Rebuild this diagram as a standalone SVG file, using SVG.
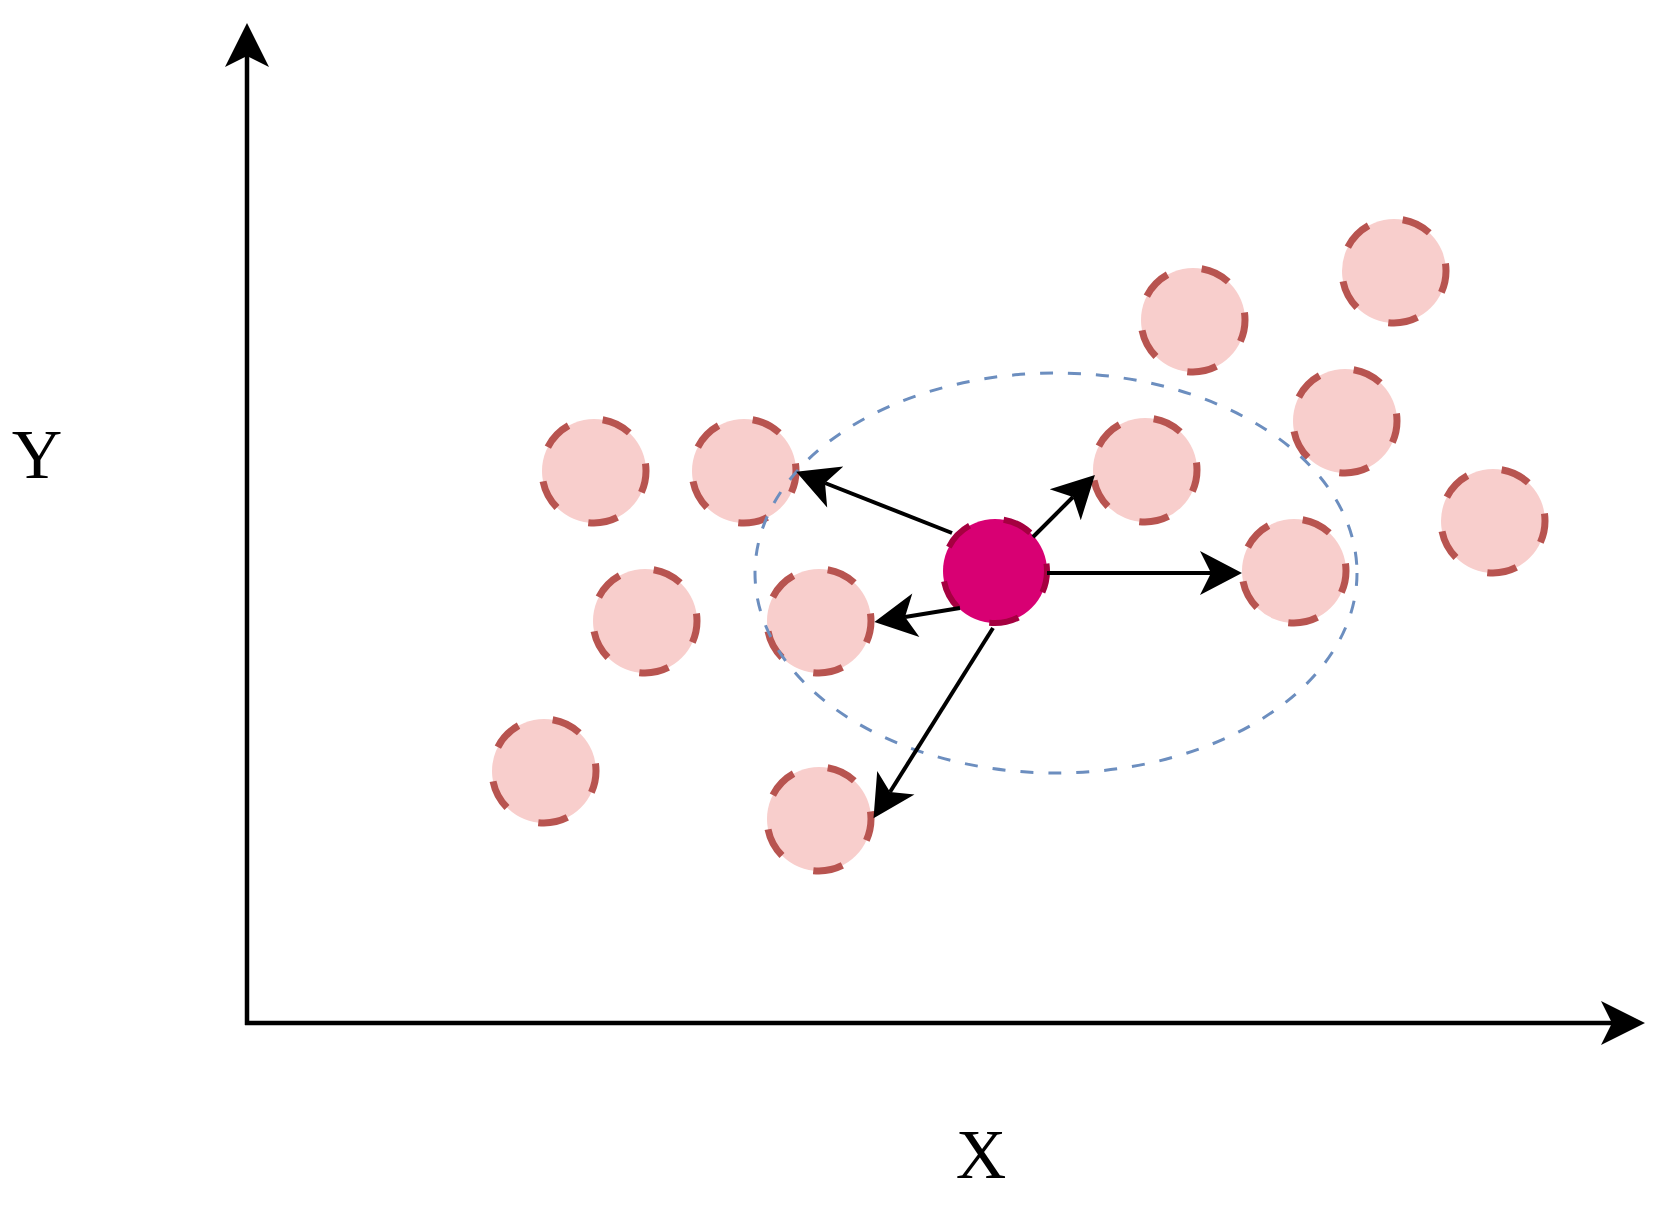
<svg xmlns="http://www.w3.org/2000/svg" width="1667" height="1205" viewBox="0 0 1667 1205">
<style>
.pt{fill:#f8cecc;stroke:#b85450;stroke-width:7;stroke-dasharray:30 35.34;stroke-dashoffset:8}
.ctr{fill:#d80073;stroke:#a50040;stroke-width:6;stroke-dasharray:30 35.34;stroke-dashoffset:8}
.region{fill:none;stroke:#6c8ebf;stroke-width:3;stroke-dasharray:13 15}
.ax{fill:none;stroke:#000;stroke-width:4.5}
.cn{fill:none;stroke:#000;stroke-width:4}
.lbl{font-family:"Liberation Serif","Times New Roman",serif;font-size:70px;fill:#000;text-anchor:middle}
</style>
<defs>
<marker id="axhead" markerUnits="userSpaceOnUse" viewBox="-45 -23 46 46" refX="-33" refY="0" markerWidth="46" markerHeight="46" orient="auto">
<path d="M0,0 L-44,-22 L-33,0 L-44,22 Z" fill="#000"/>
</marker>
<marker id="head" markerUnits="userSpaceOnUse" viewBox="-44 -23 46 46" refX="-31" refY="0" markerWidth="46" markerHeight="46" orient="auto">
<path d="M0,0 L-42,-22 L-31,0 L-42,22 Z" fill="#000"/>
</marker>
</defs>
<rect width="1667" height="1205" fill="#fff"/>
<g id="axes">
<line class="ax" x1="247" y1="1025" x2="247" y2="56" marker-end="url(#axhead)"/>
<line class="ax" x1="245" y1="1023" x2="1612" y2="1023" marker-end="url(#axhead)"/>
</g>
<text id="label-y" class="lbl" x="37" y="478">Y</text>
<text id="label-x" class="lbl" x="981" y="1178">X</text>
<g id="p1"><circle class="pt" cx="1193" cy="320" r="52"/></g>
<g id="p2"><circle class="pt" cx="1394" cy="271" r="52"/></g>
<g id="p3"><circle class="pt" cx="1345" cy="421" r="52"/></g>
<g id="p4"><circle class="pt" cx="1493" cy="521" r="52"/></g>
<g id="p5"><circle class="pt" cx="1294" cy="571" r="52"/></g>
<g id="p6"><circle class="pt" cx="1145" cy="470" r="52"/></g>
<g id="p7"><circle class="pt" cx="594" cy="471" r="52"/></g>
<g id="p8"><circle class="pt" cx="744" cy="471" r="52"/></g>
<g id="p9"><circle class="pt" cx="645" cy="621" r="52"/></g>
<g id="p10"><circle class="pt" cx="819" cy="621" r="52"/></g>
<g id="p11"><circle class="pt" cx="544" cy="771" r="52"/></g>
<g id="p12"><circle class="pt" cx="819" cy="819" r="52"/></g>
<g id="neighbourhood"><ellipse class="region" cx="1056" cy="573" rx="301" ry="200"/></g>
<g id="query"><circle class="ctr" cx="995" cy="571" r="52"/></g>
<g id="connectors">
<line class="cn" x1="952" y1="533" x2="825" y2="483" marker-end="url(#head)"/>
<line class="cn" x1="1033" y1="537" x2="1073" y2="497" marker-end="url(#head)"/>
<line class="cn" x1="1047" y1="573" x2="1211" y2="573" marker-end="url(#head)"/>
<line class="cn" x1="960" y1="608" x2="905" y2="617" marker-end="url(#head)"/>
<line class="cn" x1="993" y1="628" x2="890" y2="792" marker-end="url(#head)"/>
</g>
</svg>
